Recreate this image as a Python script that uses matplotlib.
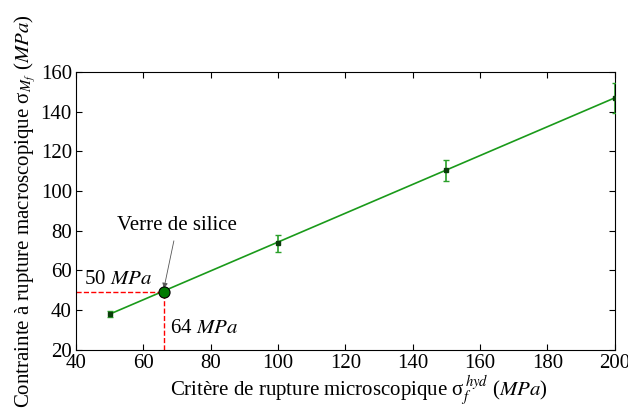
import matplotlib
matplotlib.use("Agg")
import matplotlib.pyplot as plt

plt.rcParams['font.family'] = ['Liberation Serif', 'DejaVu Serif']
plt.rcParams['mathtext.fontset'] = 'stix'
plt.rcParams['font.size'] = 15

# points mesurés (critère micro vs contrainte macro)
micro = [50, 100, 150, 200]
macro = [38.0, 73.7, 110.5, 147.0]
err = [1.5, 4.3, 5.4, 7.4]

# droite d'ajustement
fit_x = [50, 200]
fit_y = [38.0, 147.0]

# verre de silice
silice_x = 66.1
silice_y = 49.4

fig = plt.figure(figsize=(6.28, 4.19), dpi=100)
ax = fig.add_axes([0.121, 0.165, 0.858, 0.663])

ax.plot(fit_x, fit_y, color='#1a9a1a', lw=1.2, zorder=2)
ax.errorbar(micro, macro, yerr=err, fmt='s', ms=2.5, color='#0a3d0a',
            ecolor='#2aa02a', elinewidth=1.2, capsize=2.5, capthick=1.0,
            zorder=3)

ax.plot([40, silice_x], [silice_y, silice_y], color='red', ls='--', lw=1, zorder=2)
ax.plot([silice_x, silice_x], [20, silice_y], color='red', ls='--', lw=1, zorder=2)
ax.plot([silice_x], [silice_y], 'o', ms=8, mfc='#007a00', mec='black', mew=0.8, zorder=4)

ax.annotate('Verre de silice', xy=(silice_x, silice_y + 1.5), xytext=(70.0, 82.5),
            ha='center', va='center',
            arrowprops=dict(arrowstyle='-|>', color='#555555', lw=0.6,
                            mutation_scale=8, shrinkA=2, shrinkB=0))
ax.text(42.5, 55.5, '50 $\\mathit{MPa}$', ha='left', va='center')
ax.text(67.8, 31.0, '64 $\\mathit{MPa}$', ha='left', va='center')

ax.set_xlim(40, 200)
ax.set_ylim(20, 160)
ax.set_xticks(range(40, 201, 20))
ax.set_yticks(range(20, 161, 20))
ax.tick_params(direction='in', top=True, right=True, length=4, pad=3)

ax.set_xlabel('Critère de rupture microscopique σ$_f^{\\,hyd}$ ($\\mathit{MPa}$)', labelpad=0)
ax.xaxis.set_label_coords(0.525, -0.085)
ax.set_ylabel('Contrainte à rupture macroscopique σ$_{M_f}$ ($\\mathit{MPa}$)', labelpad=2)

fig.savefig('out.png', dpi=100)
